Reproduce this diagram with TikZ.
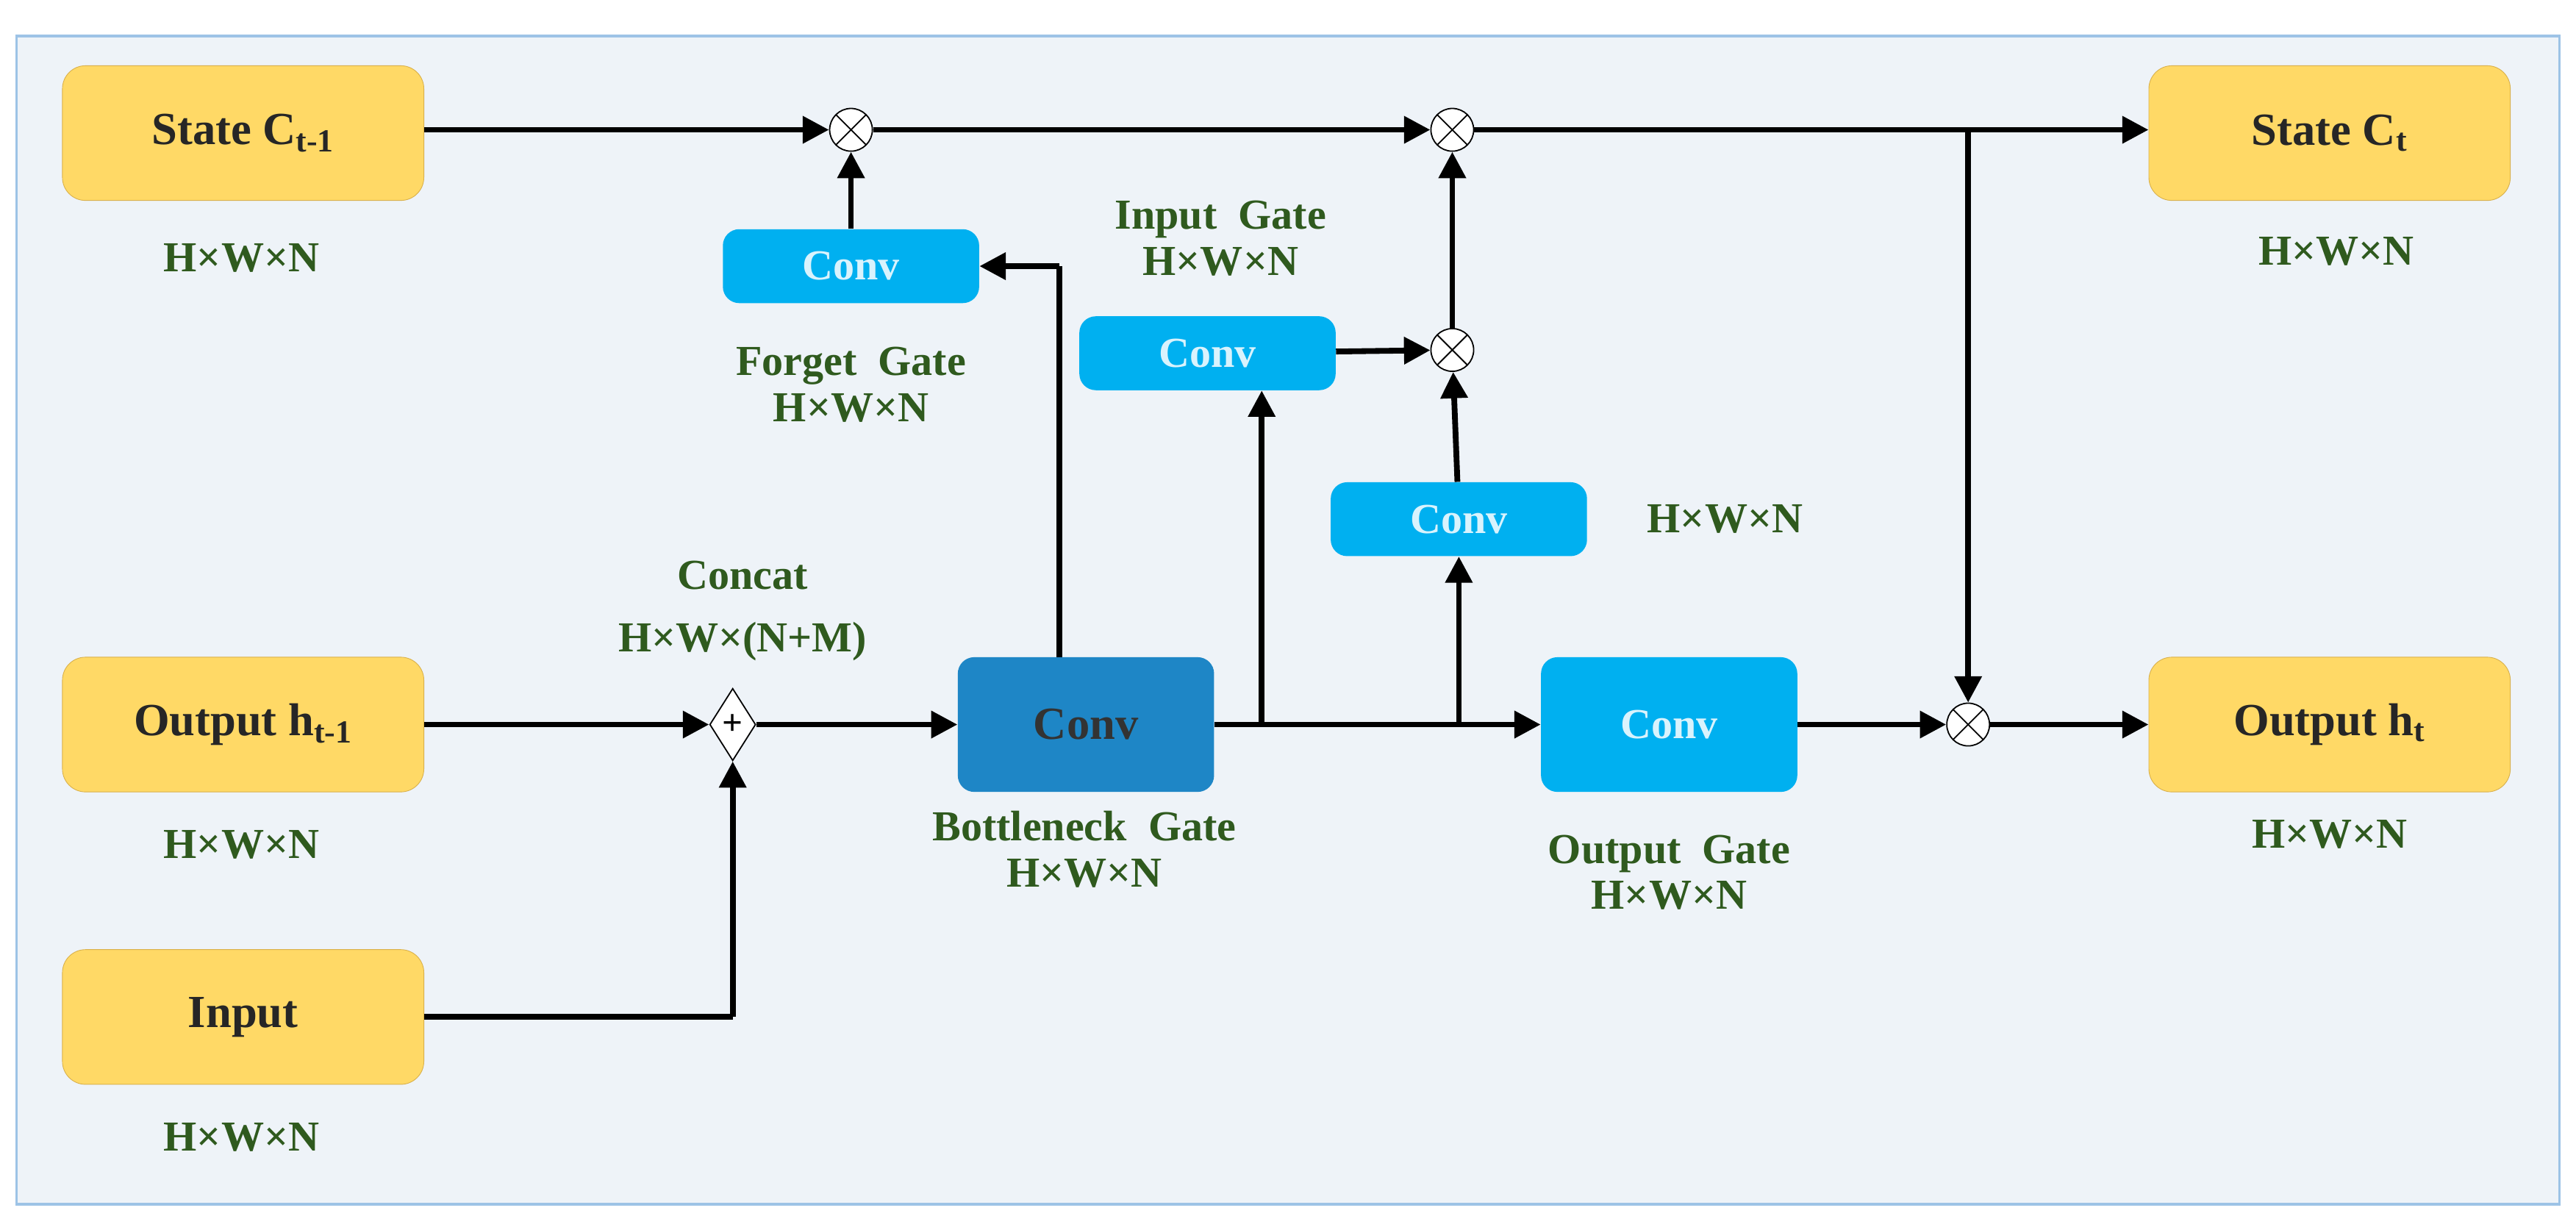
\documentclass[tikz,border=0pt]{standalone}
\usepackage{fontspec}
\setmainfont{Liberation Serif}
\usetikzlibrary{arrows.meta,shapes.geometric}
\definecolor{ybox}{HTML}{FFD966}
\definecolor{ybord}{HTML}{D9B04A}
\definecolor{lblue}{HTML}{00B0F0}
\definecolor{dblue}{HTML}{1E86C6}
\definecolor{gtxt}{HTML}{2F5A1E}
\definecolor{bgc}{HTML}{EEF3F8}
\definecolor{frm}{HTML}{9DC3E6}
\begin{document}
\begin{tikzpicture}[x=1pt,y=-1pt,
  ybx/.style={draw=ybord,fill=ybox,rounded corners=14pt,minimum width=220pt,minimum height=82pt,font=\fontsize{28}{30}\selectfont\bfseries,text=black!85},
  cbx/.style={fill=lblue,rounded corners=10pt,minimum width=156pt,minimum height=45pt,font=\fontsize{26}{28}\selectfont\bfseries,text=cyan!15},
  lbl/.style={font=\fontsize{26}{28}\selectfont\bfseries,text=gtxt,align=center},
  mul/.style={circle,draw,fill=white,thick,minimum size=26pt,inner sep=0pt,path picture={\draw[thick] (path picture bounding box.north west)--(path picture bounding box.south east) (path picture bounding box.north east)--(path picture bounding box.south west);}},
  ar/.style={line width=3.5pt,-{Triangle[length=16pt,width=16pt]}},
  ln/.style={line width=3.5pt}]
\useasboundingbox (0,0) rectangle (1568,740);
\fill[white] (0,0) rectangle (1568,740);
\draw[frm,fill=bgc,line width=1.5pt] (10,22) rectangle (1558,733);
% boxes
\node[ybx] (c1) at (148,81) {State C\textsubscript{t-1}};
\node[ybx] (h1) at (148,441) {Output h\textsubscript{t-1}};
\node[ybx] (in) at (148,619) {Input};
\node[ybx] (c) at (1418,81) {State C\textsubscript{t}};
\node[ybx] (h) at (1418,441) {Output h\textsubscript{t}};
\node[lbl] (lc1) at (147,157) {H×W×N};
\node[lbl] (lh1) at (147,514) {H×W×N};
\node[lbl] (lin) at (147,692) {H×W×N};
\node[lbl] (lc) at (1422,153) {H×W×N};
\node[lbl] (lh) at (1418,508) {H×W×N};
% convs
\node[cbx] (fc) at (518,162) {Conv};
\node[cbx] (ic) at (735,215) {Conv};
\node[cbx] (gc) at (888,316) {Conv};
\node[cbx,minimum height=82pt] (oc) at (1016,441) {Conv};
\node[cbx,fill=dblue,text=black!80,minimum height=82pt,font=\fontsize{28}{30}\selectfont\bfseries] (bc) at (661,441) {Conv};
\node[lbl] (lf) at (518,234) {Forget\ \ Gate\\H×W×N};
\node[lbl] (li) at (743,145) {Input\ \ Gate\\H×W×N};
\node[lbl] (lg) at (1050,316) {H×W×N};
\node[lbl] (lcat) at (452,372) {Concat\\[10pt]H×W×(N+M)};
\node[lbl] (lb) at (660,517) {Bottleneck\ \ Gate\\H×W×N};
\node[lbl] (lo) at (1016,531) {Output\ \ Gate\\H×W×N};
% ops
\node[mul] (m1) at (518,79) {};
\node[mul] (m2) at (884,79) {};
\node[mul] (m3) at (884,213) {};
\node[mul] (m4) at (1198,441) {};
\node[diamond,draw,fill=white,thick,minimum width=28pt,minimum height=44pt,inner sep=0pt,font=\fontsize{22}{22}\selectfont\bfseries] (pl) at (446,441) {+};
\coordinate (j1) at (1198,79);
\coordinate (b1) at (645,162);
\coordinate (b0) at (645,400);
\coordinate (s1) at (768,441);
\coordinate (s2) at (888,441);
\coordinate (r1) at (446,619);
% connectors
\draw[ar] (c1.east|-m1) -- (m1);
\draw[ar] (m1) -- (m2);
\draw[ar] (m2) -- (c.west|-m2);
\draw[ar] (j1) -- (m4);
\draw[ar] (fc) -- (m1);
\draw[ln] (b0) -- (b1);
\draw[ar] (b1) -- (fc.east);
\draw[ar] (s1) -- (s1|-ic.south);
\draw[ar] (ic) -- (m3);
\draw[ar] (s2) -- (gc);
\draw[ar] (gc) -- (m3);
\draw[ar] (m3) -- (m2);
\draw[ar] (bc) -- (oc);
\draw[ar] (oc) -- (m4);
\draw[ar] (m4) -- (h);
\draw[ar] (h1) -- (pl);
\draw[ln] (in.east) -- (r1);
\draw[ar] (r1) -- (pl);
\draw[ar] (pl) -- (bc);
\end{tikzpicture}
\end{document}
